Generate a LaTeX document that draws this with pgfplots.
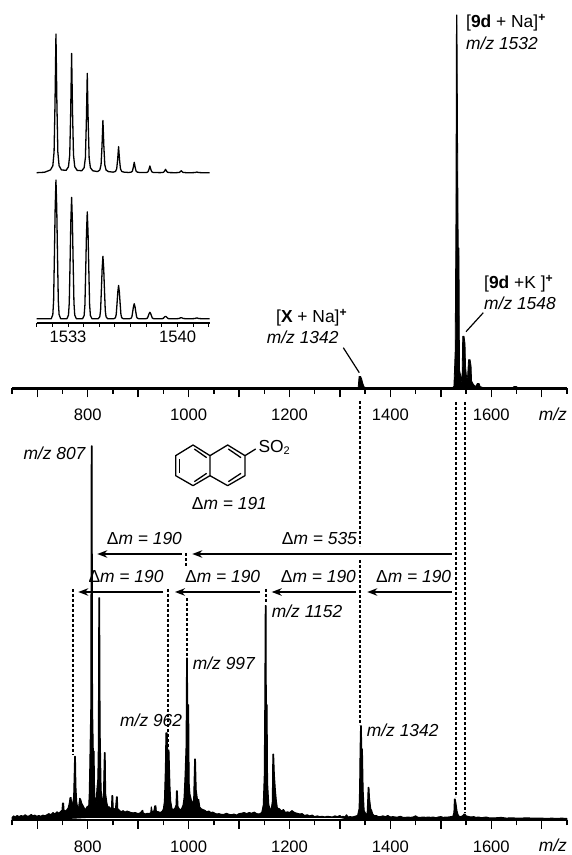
\documentclass[border=0pt]{standalone}
\usepackage{fontspec}
\setmainfont{Liberation Sans}
\usepackage{pgfplots}
\pgfplotsset{compat=1.18}
\usetikzlibrary{arrows.meta}
\newcommand{\tsize}{\fontsize{16.6}{19}\selectfont}
\newcommand{\lsize}{\fontsize{17.4}{20}\selectfont}
\newcommand{\dm}[1]{Δ\textit{m = #1}}
\newcommand{\mz}[1]{\textit{m/z #1}}
\pgfplotsset{
  spec/.style={
    scale only axis, width=554.8pt, xmin=650, xmax=1750, ymin=0, ymax=100,
    axis x line*=bottom, axis y line=none, anchor=south west, clip=false,
    xtick={800,1000,1200,1400,1600},
    extra x ticks={700,900,1100,1300,1500,1700},
    extra x tick labels={},
    minor xtick={650,750,850,950,1050,1150,1250,1350,1450,1550,1650,1750},
    tick align=outside, major tick length=9pt, minor tick length=5.5pt,
    every tick/.style={black,line width=1.4pt},
    axis line style={line width=2.3pt,black},
    tick label style={font=\tsize},
    /pgf/number format/assume math mode=true,
    /pgf/number format/1000 sep={},
    scaled x ticks=false,
    x tick label style={yshift=-8pt},
  }
}
\begin{document}
\begin{tikzpicture}[x=1pt,y=1pt]
\path[use as bounding box] (0,0) rectangle (571,855);

% ---- top spectrum
\begin{axis}[spec, at={(12.1pt,466.5pt)}, height=373.5pt]
\addplot[fill=black,draw=black,line width=0.8pt,line join=round] coordinates {
(650,0)(1336,0)(1338,3.2)(1341,3.2)(1343,2.6)(1345,1.5)(1348,0.4)(1352,0.2)(1360,0.2)(1365,0)
(1522,0)(1526,0.6)(1528.5,10)(1530,46)(1531,100)(1532,100)(1533.5,60)(1534.5,37.6)(1536,37.6)(1537,5)(1540,3)(1542,1.5)
(1543.5,14)(1546,14)(1548,12)(1549,6)(1551,3)(1553,3)(1555,7.7)(1558,7.7)(1560,6)(1561,2)(1565,1)(1570,0.5)(1572,1.3)(1576,1.3)(1578,0.5)(1585,0.2)(1590,0)
(1640,0)(1645,0.5)(1650,0.5)(1655,0)(1750,0)
};
\end{axis}

% ---- bottom spectrum
\begin{axis}[spec, at={(12.1pt,35pt)}, height=374pt]
\addplot[fill=black,draw=black,line width=1.0pt,line join=round] coordinates {
(650,0.7)(653,1.1)(656,0.8)(660,1.2)(664,0.9)(668,1.2)(672,1.0)(676,1.4)(680,1.0)(684,1.1)(688,1.5)(691,1.1)(695,1.3)(699,1.0)(703,1.2)(707,1.0)(711,1.3)(715,1.1)(719,1.4)(723,1.7)(727,1.4)(731,2.0)(735,1.6)(739,2.2)(743,1.8)(747,2.4)(749,2.6)(750,4.5)(752,4.5)(753,2.6)(756,2.4)(759,2.8)(761,3.2)(763,4.2)(765,6)(767,6)(768,4)(770,4.5)(772,6)(773.5,14)(774,17)(775.5,17)(776.5,9)(778,5)(780,3.2)(782,3.5)(784,5.8)(786,5.5)(788,4.5)(790,4)(792,3.5)(794,3.0)(796,2.8)(798,3.5)(800,3.6)(802,4)(803,7)(804,14)(805,22)(806,30)(807,100)(808.5,100)(809.5,30)(811,18.4)(812.5,18.4)(813.5,8)(815,4.5)(817,5)(818,8)(820,11)(821,20)(822,59.4)(823.5,59.4)(824.5,24)(826.5,8)(828,6)(830,5)(831,6)(833,18)(834.5,18)(835.5,7)(838,4.5)(840,3.5)(843,3.5)(845,3)(847,3.2)(848,6.5)(849.5,6.5)(850.5,3.2)(853,3)(855,3)(857,6.2)(858.5,6.2)(859.5,3)(863,2.6)(866,2.2)(870,2.5)(874,2.1)(878,2.4)(882,2.2)(886,2)(890,1.9)(894,2)(898,1.8)(902,1.8)(905,2)(907,2.4)(909,2.6)(910,1.9)(914,1.6)(918,1.8)(922,1.7)(925,2)(926,3.5)(928,2)(931,2.4)(933,3.8)(935,3.8)(936,2.3)(940,2.2)(944,2.0)(948,2.4)(950,3)(952,5)(954,14)(955,23.3)(957.5,23.3)(958.5,18.7)(961,18.7)(963,9)(964.5,5)(967,3)(970,2.8)(973,3.2)(975,4)(976,7.8)(977.5,7.8)(979,3.5)(983,2.7)(986,3)(989,4)(991,6)(993,12)(995,20)(996,43.3)(997.5,43.3)(998,30.8)(1000,30.8)(1001,10)(1002.5,7)(1006,5)(1008,4.5)(1010,5.5)(1012,16.3)(1013.5,16.3)(1015,8)(1018,5)(1020,5.5)(1022,3.5)(1025,3)(1028,2.8)(1032,2.6)(1036,2.2)(1040,2.4)(1044,2)(1048,2.1)(1052,1.8)(1056,1.6)(1060,1.7)(1065,1.5)(1070,1.5)(1075,1.8)(1080,1.5)(1085,1.4)(1090,1.6)(1095,1.3)(1100,1.7)(1105,1.8)(1110,2)(1115,1.7)(1120,2)(1125,1.8)(1130,2.1)(1135,1.7)(1140,1.6)(1145,2)(1148,4)(1150,12)(1151,30.8)(1152,57.3)(1153.5,57.3)(1154,30.8)(1155.5,30.8)(1156.5,10)(1159,4)(1162,2.8)(1164,3)(1166,5)(1167,17.6)(1168.5,17.6)(1170,12)(1172,8)(1174,5)(1176,3.2)(1180,3)(1184,2.4)(1188,2.8)(1192,2)(1196,2.2)(1200,2)(1205,2.5)(1210,2)(1215,1.8)(1220,1.6)(1225,1.7)(1230,1.2)(1235,1.4)(1240,1.1)(1245,1.3)(1250,0.9)(1255,1.1)(1260,0.9)(1265,1)(1270,0.8)(1275,1)(1280,0.9)(1285,0.8)(1290,1.1)(1295,0.9)(1300,1.2)(1303,0.8)(1306,1)(1310,0.8)(1313,1.4)(1316,0.8)(1320,0.9)(1325,0.8)(1330,1)(1335,1.2)(1338,3)(1339,8)(1340,19)(1341,25.2)(1342.5,25.2)(1343,19)(1344.5,19)(1346,8)(1348,2.5)(1352,1.5)(1354,1.8)(1355,5)(1356,8.7)(1357.5,8.7)(1358.5,6)(1361,3)(1363,2.5)(1365,1.6)(1368,1.2)(1372,1.2)(1376,0.9)(1380,0.9)(1385,1.1)(1390,0.9)(1395,1.2)(1400,0.8)(1405,0.9)(1410,0.8)(1415,0.8)(1420,1)(1425,0.7)(1430,0.7)(1435,0.8)(1440,0.7)(1445,0.8)(1450,1.1)(1455,0.7)(1460,0.7)(1465,0.8)(1470,0.7)(1475,0.8)(1480,0.7)(1485,0.8)(1490,0.6)(1495,0.8)(1500,0.9)(1505,0.7)(1510,0.8)(1515,0.8)(1520,0.9)(1524,1)(1526,2)(1527,5.6)(1528.5,5.6)(1530,4.5)(1532,2.5)(1534,1.5)(1536,1)(1540,0.9)(1544,1.2)(1546,1.6)(1548,1.6)(1550,1.1)(1553,1)(1556,0.9)(1560,0.8)(1565,0.9)(1570,0.7)(1575,0.8)(1580,0.6)(1585,0.7)(1590,0.8)(1595,0.6)(1600,0.6)(1610,0.6)(1620,0.7)(1630,0.5)(1640,0.6)(1650,0.5)(1660,0.5)(1670,0.6)(1680,0.5)(1690,0.5)(1700,0.5)(1710,0.4)(1720,0.5)(1730,0.4)(1740,0.5)(1750,0.4)
(1750,0.1)(1320,0.1)(1300,0.7)(800,0.7)(780,0.55)(760,0.4)(720,0.2)(650,0.1)(650,0.7)
};
\end{axis}

% ---- inset, calculated pattern (upper)
\begin{axis}[scale only axis, width=173pt, height=138.7pt, at={(36.7pt,682.3pt)}, anchor=south west,
  xmin=1531, xmax=1542.05, ymin=0, ymax=100, hide axis, clip=false]
\addplot[black,line width=1.3pt,line join=round] coordinates {
(1531,0)(1531.5,0.3)
(1531.88,2)(1532.03,5)(1532.11,15)(1532.17,50)(1532.23,100)(1532.29,50)(1532.35,15)(1532.43,5)(1532.58,2)
(1532.88,1.7)(1533.03,4.3)(1533.11,12.9)(1533.17,43)(1533.23,86)(1533.29,43)(1533.35,12.9)(1533.43,4.3)(1533.58,1.7)
(1533.88,1.4)(1534.03,3.6)(1534.11,10.7)(1534.17,35.8)(1534.23,71.6)(1534.29,35.8)(1534.35,10.7)(1534.43,3.6)(1534.58,1.4)
(1534.88,0.8)(1535.03,1.9)(1535.11,5.7)(1535.17,18.9)(1535.23,37.7)(1535.29,18.9)(1535.35,5.7)(1535.43,1.9)(1535.58,0.8)
(1535.88,0.4)(1536.03,0.9)(1536.11,2.8)(1536.17,9.4)(1536.23,18.8)(1536.29,9.4)(1536.35,2.8)(1536.43,0.9)(1536.58,0.4)
(1536.88,0.15)(1537.03,0.4)(1537.11,1.1)(1537.17,3.8)(1537.23,7.5)(1537.29,3.8)(1537.35,1.1)(1537.43,0.4)(1537.58,0.15)
(1537.88,0.1)(1538.03,0.2)(1538.11,0.7)(1538.17,2.4)(1538.23,4.8)(1538.29,2.4)(1538.35,0.7)(1538.43,0.2)(1538.58,0.1)
(1538.88,0.05)(1539.03,0.1)(1539.11,0.4)(1539.17,1.2)(1539.23,2.4)(1539.29,1.2)(1539.35,0.4)(1539.43,0.1)(1539.58,0.05)
(1539.88,0)(1540.03,0.1)(1540.11,0.2)(1540.17,0.7)(1540.23,1.4)(1540.29,0.7)(1540.35,0.2)(1540.43,0.1)(1540.58,0)
(1540.88,0)(1541.11,0.1)(1541.17,0.25)(1541.23,0.5)(1541.29,0.25)(1541.35,0.1)(1541.58,0)(1542.05,0)
};
\end{axis}

% ---- inset, measured pattern (lower)
\begin{axis}[scale only axis, width=173pt, height=143pt, at={(36.7pt,532pt)}, anchor=south west,
  xmin=1531, xmax=1542.05, ymin=-3.1, ymax=100, axis x line*=bottom, axis y line=none, clip=false,
  xtick={1533,1540}, minor xtick={1531,1532,1534,1535,1536,1537,1538,1539,1541,1542},
  tick align=outside, major tick length=3.6pt, minor tick length=3.6pt,
  every tick/.style={black,line width=1pt},
  axis line style={line width=1.2pt,black},
  tick label style={font=\tsize},
  x tick label style={yshift=-1pt},
  /pgf/number format/assume math mode=true,
  /pgf/number format/1000 sep={},
  scaled x ticks=false]
\addplot[black,line width=1.3pt,line join=round] coordinates {
(1531,0)(1531.93,0)
(1532.03,3)(1532.08,13)(1532.13,45)(1532.18,80)(1532.23,100)(1532.28,80)(1532.33,45)(1532.38,13)(1532.43,3)(1532.53,0)
(1532.93,0)(1533.03,2.6)(1533.08,11.4)(1533.13,39.4)(1533.18,70)(1533.23,87.5)(1533.28,70)(1533.33,39.4)(1533.38,11.4)(1533.43,2.6)(1533.53,0)
(1533.93,0)(1534.03,2.3)(1534.08,10)(1534.13,34.7)(1534.18,61.6)(1534.23,77)(1534.28,61.6)(1534.33,34.7)(1534.38,10)(1534.43,2.3)(1534.53,0)
(1534.93,0)(1535.03,1.4)(1535.08,5.9)(1535.13,20.3)(1535.18,36)(1535.23,45)(1535.28,36)(1535.33,20.3)(1535.38,5.9)(1535.43,1.4)(1535.53,0)
(1535.93,0)(1536.03,0.7)(1536.08,3.1)(1536.13,10.8)(1536.18,19.2)(1536.23,24)(1536.28,19.2)(1536.33,10.8)(1536.38,3.1)(1536.43,0.7)(1536.53,0)
(1536.93,0)(1537.03,0.3)(1537.08,1.4)(1537.13,4.9)(1537.18,8.6)(1537.23,10.8)(1537.28,8.6)(1537.33,4.9)(1537.38,1.4)(1537.43,0.3)(1537.53,0)
(1537.93,0)(1538.03,0.1)(1538.08,0.6)(1538.13,2.1)(1538.18,3.7)(1538.23,4.6)(1538.28,3.7)(1538.33,2.1)(1538.38,0.6)(1538.43,0.1)(1538.53,0)
(1538.93,0)(1539.03,0.05)(1539.08,0.2)(1539.13,0.8)(1539.18,1.4)(1539.23,1.7)(1539.28,1.4)(1539.33,0.8)(1539.38,0.2)(1539.43,0.05)(1539.53,0)
(1539.93,0)(1540.08,0.1)(1540.13,0.3)(1540.18,0.6)(1540.23,0.7)(1540.28,0.6)(1540.33,0.3)(1540.38,0.1)(1540.53,0)
(1540.93,0)(1541.08,0.1)(1541.13,0.2)(1541.18,0.4)(1541.23,0.5)(1541.28,0.4)(1541.33,0.2)(1541.38,0.1)(1541.53,0)(1542.05,0)
};
\end{axis}

% ---- annotations, in pixel coordinates from the top left
\begin{scope}[shift={(0,855)},x=1pt,y=-1pt]
  % dashed guide lines
  \begin{scope}[line width=1.3pt,dash pattern=on 2.8pt off 2.2pt]
    \draw (360,401)--(360,546);
    \draw (360,560)--(360,725);
    \draw (456,402)--(456,797);
    \draw (465,402)--(465,813);
    \draw (186,553)--(186,567);
    \draw (187,598)--(187,657);
    \draw (73,589)--(73,755);
    \draw (168,589)--(168,749);
    \draw (266,589)--(266,603);
  \end{scope}
  % arrows
  \begin{scope}[line width=1.5pt,-{Stealth[length=10pt,width=7.5pt]}]
    \draw (181.7,554)--(97.3,554);
    \draw (451.7,554)--(192.3,554);
    \draw (163.3,592)--(78.3,592);
    \draw (260,592)--(175,592);
    \draw (356,592)--(271.7,592);
    \draw (451.7,592)--(367.3,592);
  \end{scope}
  % leader lines
  \draw[line width=1.2pt] (483.3,312.7)--(466,331.7);
  \draw[line width=1.2pt] (343.3,347.7)--(359.3,372.7);
  % structure
  \begin{scope}[shift={(165,435)},x=0.3333pt,y=-0.3333pt,line width=1.3pt,line join=round]
    \draw (135,62)--(84,30)--(32,62)--(32,122)--(84,152)--(135,122)--cycle;
    \draw (135,62)--(188,30)--(240,62)--(240,122)--(188,152)--(135,122);
    \draw (43,72)--(43,113);
    \draw (88,42)--(125,68);
    \draw (88,140)--(125,115);
    \draw (190,42)--(228,68);
    \draw (190,140)--(228,115);
    \draw (240,62)--(272,42);
  \end{scope}
  % texts
  \tikzset{lab/.style={anchor=base west,inner sep=0pt,font=\lsize}}
  \node[lab] at (466,28) {[\textbf{9d} + Na]\textsuperscript{\textbf{+}}};
  \node[lab] at (466,50) {\mz{1532}};
  \node[lab] at (484,289) {[\textbf{9d} +K ]\textsuperscript{\textbf{+}}};
  \node[lab] at (484,310) {\mz{1548}};
  \node[lab] at (276,322.3) {[\textbf{X} + Na]\textsuperscript{\textbf{+}}};
  \node[lab] at (266.7,343.3) {\mz{1342}};
  \node[lab] at (23.3,460) {\mz{807}};
  \node[lab] at (258.3,452.7) {SO\raisebox{-0.25ex}{\fontsize{11}{12}\selectfont 2}};
  \node[lab] at (191.7,510) {\dm{191}};
  \node[lab] at (106.7,544.3) {\dm{190}};
  \node[lab] at (281.7,544.3) {\dm{535}};
  \node[lab] at (88.3,582.3) {\dm{190}};
  \node[lab] at (185,582.3) {\dm{190}};
  \node[lab] at (280.7,582.3) {\dm{190}};
  \node[lab] at (376,582.3) {\dm{190}};
  \node[lab] at (271.7,617.7) {\mz{1152}};
  \node[lab] at (192.7,670) {\mz{997}};
  \node[lab] at (120,726.7) {\mz{962}};
  \node[lab] at (366.7,736.7) {\mz{1342}};
  \node[anchor=base east,inner sep=0pt,font=\lsize] at (567,421) {\textit{m/z}};
  \node[anchor=base east,inner sep=0pt,font=\lsize] at (567,852) {\textit{m/z}};
\end{scope}
\end{tikzpicture}
\end{document}
